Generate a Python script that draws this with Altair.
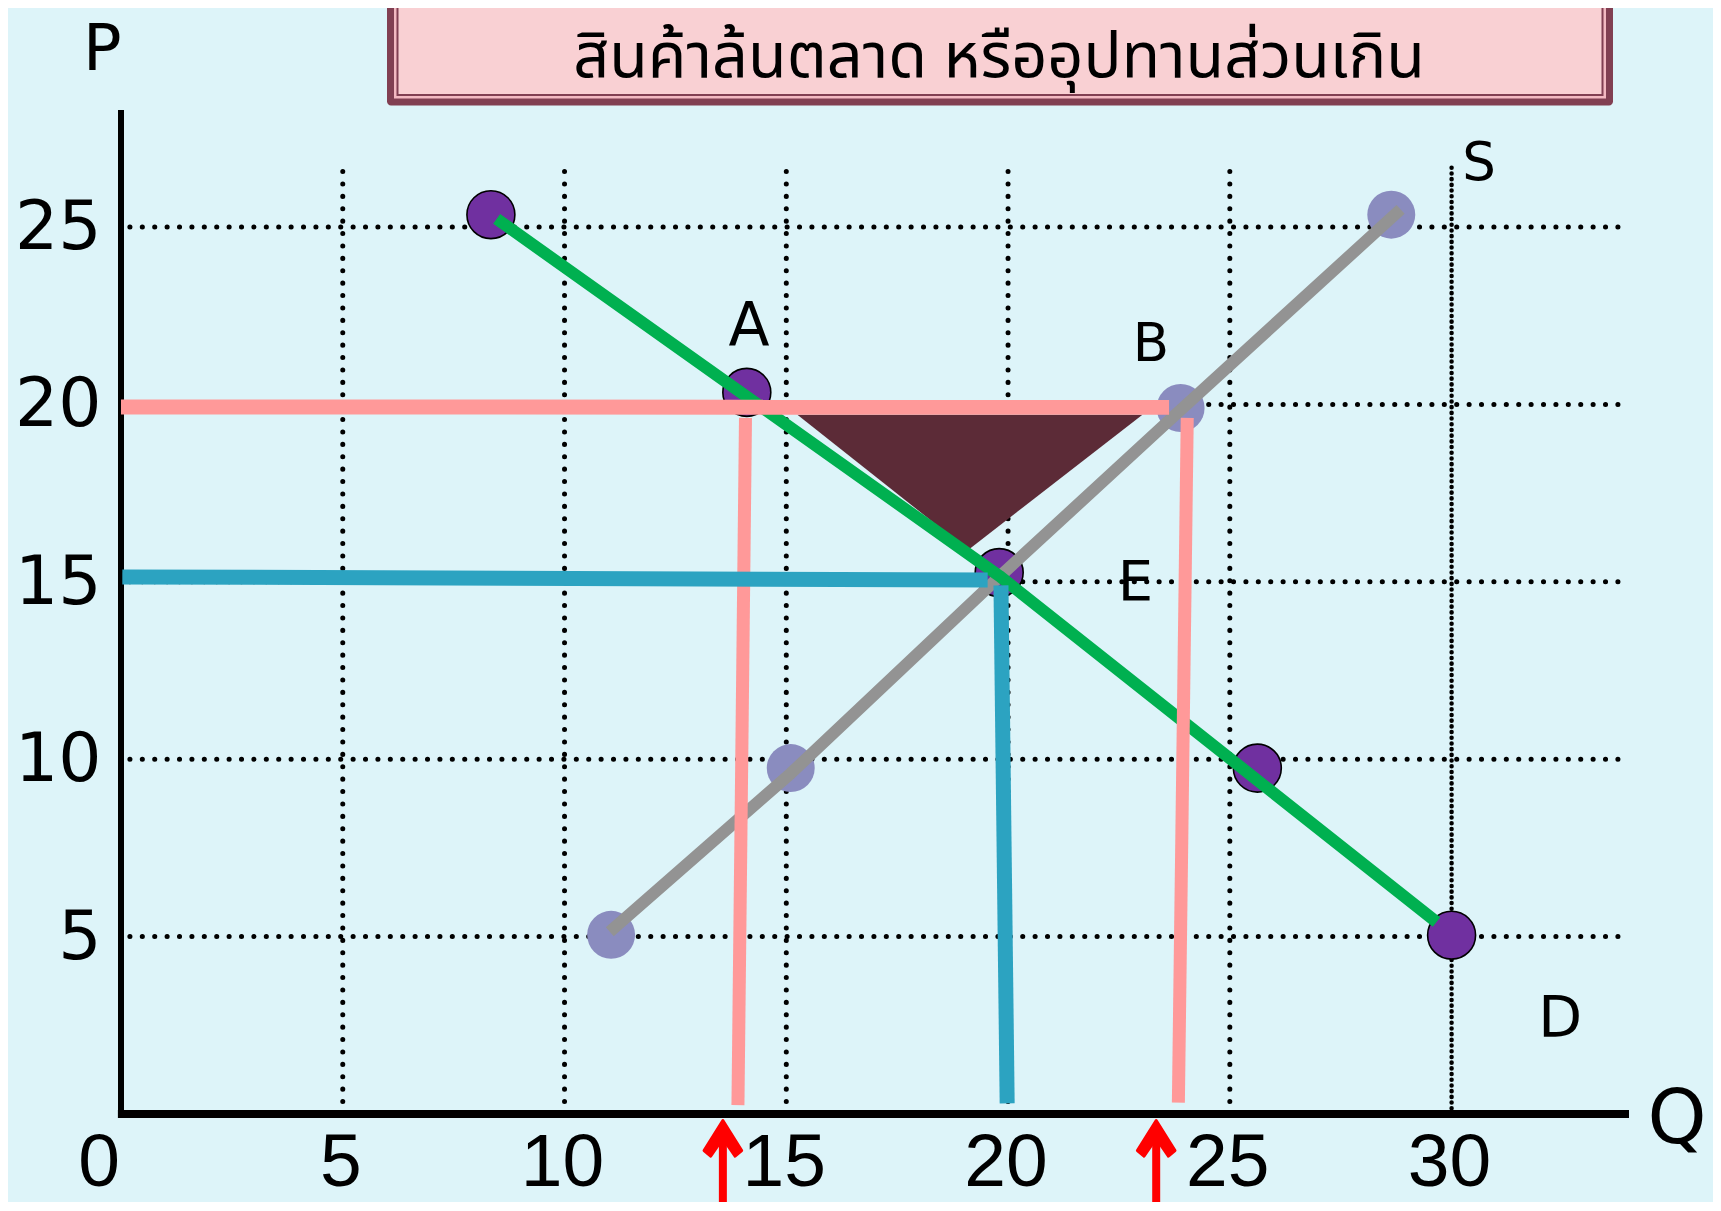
import altair as alt
import pandas as pd

# ---------------- data ----------------
x_ticks = [0, 5, 10, 15, 20, 25, 30]
y_ticks = [5, 10, 15, 20, 25]
x_tick_labels = ["0", "5", "10", "15", "20", "25", "30"]
y_tick_labels = ["5", "10", "15", "20", "25"]

title_text = "สินค้าล้นตลาด หรืออุปทานส่วนเกิน"

# demand curve D (green) and its dots (purple)
demand_line_q = [8.47, 19.80, 29.66]
demand_line_p = [25.23, 15.17, 5.41]
demand_pts_q = [8.34, 14.11, 19.80, 25.62, 30.0]
demand_pts_p = [25.35, 20.34, 15.26, 9.75, 5.04]

# supply curve S (grey) and its dots (lavender)
supply_line_q = [11.02, 15.10, 19.68, 23.64, 28.85]
supply_line_p = [5.14, 9.60, 15.00, 19.56, 25.50]
supply_pts_q = [11.05, 15.10, 23.89, 28.64]
supply_pts_p = [5.05, 9.75, 19.90, 25.35]

# price floor at 20 (pink) and drop lines
floor_h_q = [0.0, 23.63]
floor_h_p = [19.93, 19.92]
floor_a_q = [14.08, 13.91]
floor_a_p = [19.62, 0.25]
floor_b_q = [24.04, 23.84]
floor_b_p = [19.62, 0.32]

# equilibrium lines (blue)
eq_h_q = [0.03, 19.54]
eq_h_p = [15.14, 15.05]
eq_v_q = [19.84, 19.98]
eq_v_p = [14.90, 0.30]

# surplus triangle
tri_q = [15.25, 19.10, 23.03]
tri_top = [19.71, 19.71, 19.71]
tri_bottom = [19.71, 15.90, 19.71]

# red arrows under the Q axis
arrow_q = [13.57, 23.34]
arrow_tip_p = [-0.22, -0.22]
arrow_end_p = [-2.9, -2.9]

# letters
label_text = ["P", "Q", "S", "D", "A", "B", "E"]
label_q = [-0.42, 35.08, 30.62, 32.45, 14.16, 23.22, 22.87]
label_p = [29.95, -0.16, 26.77, 2.66, 22.19, 21.67, 14.98]

# axis extents
q_max = 34.0
p_max = 28.3

# ---------------- styles ----------------
BG = "#DDF4F9"
GREEN = "#00B050"
GREY = "#939393"
PURPLE = "#7030A0"
LAVENDER = "#8A8CBF"
PINK = "#FF9999"
BLUE = "#2CA3C1"
TRI = "#5C2B37"
MAROON = "#813F52"
label_sizes = {"P": 64, "Q": 75, "S": 53, "D": 57, "A": 60, "B": 53, "E": 56}

xs = alt.Scale(domain=[0, q_max], nice=False, zero=False)
ys = alt.Scale(domain=[0, p_max], nice=False, zero=False)


def X(f="q"):
    return alt.X(f"{f}:Q", scale=xs, axis=None)


def Y(f="p"):
    return alt.Y(f"{f}:Q", scale=ys, axis=None)


def line_df(q, p):
    return pd.DataFrame({"q": q, "p": p, "o": list(range(len(q)))})


def poly(q, p, color, width):
    return alt.Chart(line_df(q, p)).mark_line(
        color=color, strokeWidth=width, strokeCap="butt", strokeJoin="round"
    ).encode(x=X(), y=Y(), order="o:O")


# grid lines
vgrid = pd.DataFrame({"q": x_ticks[1:], "p0": 0.0, "p1": 26.8})
hgrid = pd.DataFrame({"p": y_ticks, "q0": 0.2, "q1": q_max})
dense = vgrid["q"] == 30
vgrid_a = alt.Chart(vgrid[~dense]).mark_rule(
    color="black", strokeWidth=5, strokeCap="round", strokeDash=[0.1, 12.3]
).encode(x=X(), y=Y("p0"), y2="p1:Q")
vgrid_b = alt.Chart(vgrid[dense]).mark_rule(
    color="black", strokeWidth=4.5, strokeCap="round", strokeDash=[0.1, 5.6]
).encode(x=X(), y=Y("p0"), y2="p1:Q")
hgrid_l = alt.Chart(hgrid).mark_rule(
    color="black", strokeWidth=5, strokeCap="round", strokeDash=[0.1, 12.3]
).encode(x=X("q0"), x2="q1:Q", y=Y())

# axis lines
ax_df = pd.DataFrame({"q0": [-0.07], "q1": [q_max], "p0": [0.0], "p1": [p_max], "z": [0.0]})
x_line = alt.Chart(ax_df).mark_rule(color="black", strokeWidth=8).encode(
    x=X("q0"), x2="q1:Q", y=Y("z")
)
y_line = alt.Chart(ax_df).mark_rule(color="black", strokeWidth=6).encode(
    x=X("z"), y=Y("p0"), y2="p1:Q"
)

# tick labels
xt = pd.DataFrame({"q": x_ticks, "t": x_tick_labels, "p": -2.03})
xt_zero = alt.Chart(xt[xt["q"] == 0]).mark_text(
    font="Liberation Sans", fontSize=75, color="black", align="center",
    baseline="alphabetic", dx=-22
).encode(x=X(), y=Y(), text="t:N")
xt_rest = alt.Chart(xt[xt["q"] != 0]).mark_text(
    font="Liberation Sans", fontSize=75, color="black", align="center",
    baseline="alphabetic", dx=-2
).encode(x=X(), y=Y(), text="t:N")
yt = pd.DataFrame({"p": y_ticks, "t": y_tick_labels, "q": 0.0})
yt_l = alt.Chart(yt).mark_text(
    font="DejaVu Sans", fontSize=68, color="black", align="right",
    baseline="middle", dx=-19.5, dy=2
).encode(x=X(), y=Y(), text="t:N")

# triangle
tri = alt.Chart(pd.DataFrame({"q": tri_q, "t": tri_top, "b": tri_bottom})).mark_area(
    color=TRI, opacity=1
).encode(x=X(), y=Y("t"), y2="b:Q")

# points
dpts = alt.Chart(line_df(demand_pts_q, demand_pts_p)).mark_point(
    filled=True, size=2300, color=PURPLE, stroke="black", strokeWidth=1.6, opacity=1
).encode(x=X(), y=Y())
spts = alt.Chart(line_df(supply_pts_q, supply_pts_p)).mark_point(
    filled=True, size=2300, color=LAVENDER, strokeWidth=0, opacity=1
).encode(x=X(), y=Y())

supply = poly(supply_line_q, supply_line_p, GREY, 12)
demand = poly(demand_line_q, demand_line_p, GREEN, 12)
pink_h = poly(floor_h_q, floor_h_p, PINK, 15)
pink_a = poly(floor_a_q, floor_a_p, PINK, 13)
pink_b = poly(floor_b_q, floor_b_p, PINK, 13)
blue_h = poly(eq_h_q, eq_h_p, BLUE, 15)
blue_v = poly(eq_v_q, eq_v_p, BLUE, 15)

# arrows
arr_df = pd.DataFrame({"q": arrow_q, "tip": arrow_tip_p, "end": arrow_end_p})
arr_df["start"] = arr_df["tip"] - 0.5
shaft = alt.Chart(arr_df).mark_rule(color="#FF0000", strokeWidth=8).encode(
    x=X(), y=Y("start"), y2="end:Q"
)
head_path = "M0,-0.06L0.94,1.44L0.61,1.72L0,0.83L-0.61,1.72L-0.94,1.44Z"
head = alt.Chart(arr_df).mark_point(
    shape=head_path, size=1600, filled=True, color="#FF0000", stroke="#FF0000",
    strokeWidth=3, strokeJoin="round", opacity=1
).encode(x=X(), y=Y("tip"))

# letters
lab_df = pd.DataFrame({"t": label_text, "q": label_q, "p": label_p})
letters = []
for t in label_text:
    letters.append(
        alt.Chart(lab_df[lab_df["t"] == t]).mark_text(
            font="DejaVu Sans", fontSize=label_sizes[t], color="black",
            align="center", baseline="middle"
        ).encode(x=X(), y=Y(), text="t:N")
    )

# title box (decoration, in pixel coordinates relative to the plot area)
one = pd.DataFrame({"k": [0]})


def box(x0, x1, y0, y1, color, r=0):
    return alt.Chart(one).mark_rect(color=color, cornerRadius=r).encode(
        x=alt.value(x0), x2=alt.value(x1), y=alt.value(y0), y2=alt.value(y1)
    )


bx0, bx1, by0, by1 = 266, 1492, -130, -4.5
title_box = [
    box(bx0, bx1, by0, by1, MAROON, 4),
    box(bx0 + 7, bx1 - 7, by0, by1 - 7, "#F3B9C1"),
    box(bx0 + 9.5, bx1 - 9.5, by0, by1 - 9.5, MAROON),
    box(bx0 + 11.5, bx1 - 11.5, by0, by1 - 11.5, "#F9D0D3"),
]
title = alt.Chart(one).mark_text(
    text=title_text, font="Noto Sans Thai, Loma, Garuda, Noto Sans, sans-serif",
    fontSize=63, color="black", align="center", baseline="alphabetic"
).encode(x=alt.value(878), y=alt.value(-33.5))

chart = alt.layer(
    vgrid_a, vgrid_b, hgrid_l, x_line, y_line, xt_zero, xt_rest, yt_l,
    tri, dpts, spts, supply, demand,
    pink_h, pink_a, pink_b, blue_h, blue_v, shaft, head, *letters,
    *title_box, title,
).properties(
    width=1508, height=1004,
    autosize=alt.AutoSizeParams(type="none"),
    padding={"left": 113, "top": 102, "right": 84, "bottom": 88},
    background=BG,
).configure_view(stroke=None)

chart.save("out.html", embed_options={"renderer": "svg", "actions": False})
